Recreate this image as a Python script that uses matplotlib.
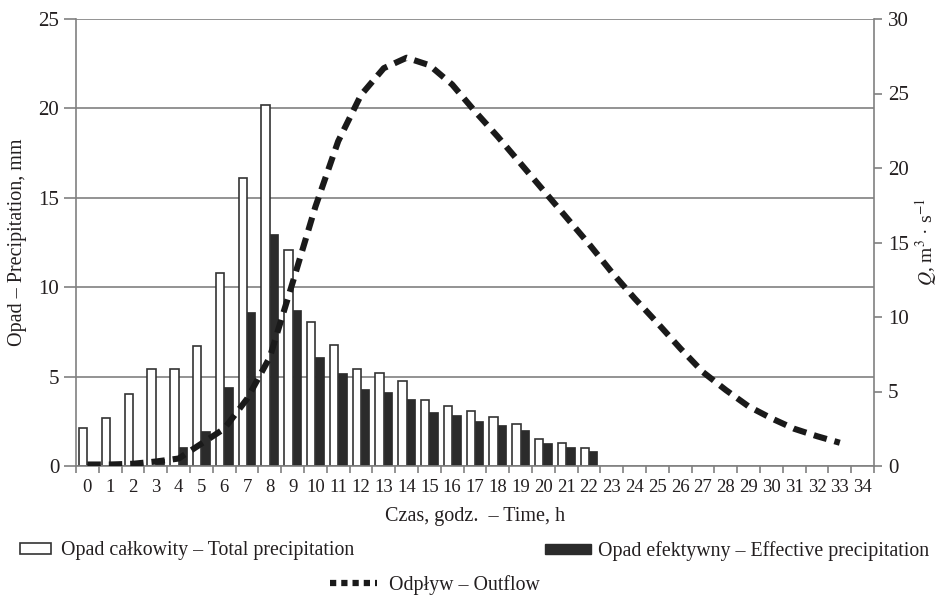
import numpy as np
import matplotlib
matplotlib.use("Agg")
import matplotlib.pyplot as plt
from matplotlib.patches import Patch
from matplotlib.lines import Line2D

# hours 0..34 on the category axis
hours = list(range(35))
# total precipitation, mm (hours 0..22)
total_precip = [2.1, 2.7, 4.0, 5.4, 5.4, 6.7, 10.8, 16.1, 20.2, 12.1, 8.05,
                6.75, 5.4, 5.2, 4.75, 3.7, 3.35, 3.05, 2.75, 2.35, 1.5, 1.3, 1.0]
# effective precipitation, mm (hours 0..22)
eff_precip = [0.1, 0.1, 0.15, 0.4, 1.05, 1.95, 4.4, 8.6, 13.0, 8.75, 6.1,
              5.2, 4.3, 4.15, 3.75, 3.0, 2.85, 2.5, 2.3, 2.0, 1.27, 1.05, 0.84]
# outflow Q, m3/s (hours 0..33)
outflow = [0.1, 0.1, 0.15, 0.3, 0.5, 1.5, 2.5, 4.5, 7.3, 12.3, 17.4, 21.8,
           24.9, 26.7, 27.4, 26.9, 25.6, 23.8, 22.1, 20.3, 18.5, 16.7, 14.9,
           13.0, 11.25, 9.6, 7.9, 6.3, 5.1, 4.0, 3.2, 2.5, 2.0, 1.56]

plt.rcParams['font.family'] = ['Liberation Serif', 'DejaVu Serif']
plt.rcParams['mathtext.fontset'] = 'stix'

INK = '#231f20'
GRID = '#808080'


def main():
    fig = plt.figure(figsize=(9.49, 5.99), dpi=100)
    ax = fig.add_axes([76 / 949, 1 - 466 / 599, 798 / 949, 447 / 599])

    bw = 0.365
    x_p = np.arange(len(total_precip))
    ax.bar(x_p - bw / 2, total_precip, width=bw, color='white',
           edgecolor='#333333', linewidth=1.2, zorder=2)
    ax.bar(x_p + bw / 2, eff_precip, width=bw, color='#2b2b2b',
           edgecolor='#2b2b2b', linewidth=0.5, zorder=2)

    ax.set_xlim(-0.5, len(hours) - 0.5)
    ax.set_ylim(0, 25)
    ax.set_yticks([0, 5, 10, 15, 20, 25])
    ax.yaxis.grid(True, color=GRID, linewidth=1.2)
    ax.set_axisbelow(True)

    # category labels in the middle, tick marks between categories
    ax.set_xticks(hours)
    ax.set_xticklabels([str(h) for h in hours], fontsize=13.5)
    ax.tick_params(axis='x', which='major', length=0, pad=9, colors=INK)
    ax.set_xticks(np.arange(-0.5, len(hours), 1.0), minor=True)
    ax.tick_params(axis='x', which='minor', length=5, direction='out',
                   color=GRID, width=1.2)
    ax.tick_params(axis='y', length=9, direction='out', color=GRID,
                   width=1.2, labelsize=15, labelcolor=INK, pad=3)

    for s in ['left', 'right', 'bottom']:
        ax.spines[s].set_color(GRID)
        ax.spines[s].set_linewidth(1.2)
    ax.spines['top'].set_visible(False)

    ax.set_xlabel("Czas, godz.  – Time, h", fontsize=14.5, color=INK,
                  labelpad=8)
    ax.set_ylabel("Opad – Precipitation, mm", fontsize=14.5, color=INK,
                  labelpad=8)

    ax2 = ax.twinx()
    ax2.plot(range(len(outflow)), outflow, color='#1a1a1a', linewidth=4.4,
             linestyle=(0, (2.2, 1.3)), zorder=3)
    ax2.set_ylim(0, 30)
    ax2.set_yticks([0, 5, 10, 15, 20, 25, 30])
    ax2.tick_params(axis='y', length=6, direction='out', color=GRID,
                    width=1.2, labelsize=15, labelcolor=INK, pad=4)
    for s in ['left', 'right', 'bottom', 'top']:
        ax2.spines[s].set_visible(False)
    ax2.set_ylabel(r"$\mathit{Q}$, m$^{3}$ · s$^{-1}$", fontsize=14,
                   color=INK, labelpad=3)

    # legend
    fs = 14.3
    h_tot = Patch(facecolor='white', edgecolor='#333333', linewidth=1.2)
    h_eff = Patch(facecolor='#2b2b2b', edgecolor='#2b2b2b')
    h_out = Line2D([], [], color='#1a1a1a', linewidth=4.5,
                   linestyle=(0, (1.0, 0.8)))
    fig.legend([h_tot], ["Opad całkowity – Total precipitation"],
               loc='center left', bbox_to_anchor=(2 / 949, 1 - 551 / 599),
               frameon=False, fontsize=fs, handlelength=1.55,
               handleheight=0.42, handletextpad=0.5, labelcolor=INK)
    fig.legend([h_eff], ["Opad efektywny – Effective precipitation"],
               loc='center left', bbox_to_anchor=(527 / 949, 1 - 551 / 599),
               frameon=False, fontsize=fs, handlelength=2.3,
               handleheight=0.42, handletextpad=0.4, labelcolor=INK)
    fig.legend([h_out], ["Odpływ – Outflow"],
               loc='center left', bbox_to_anchor=(312 / 949, 1 - 585 / 599),
               frameon=False, fontsize=fs, handlelength=2.35,
               handletextpad=0.65, labelcolor=INK)

    fig.savefig("out.png", dpi=100)


if __name__ == "__main__":
    main()
